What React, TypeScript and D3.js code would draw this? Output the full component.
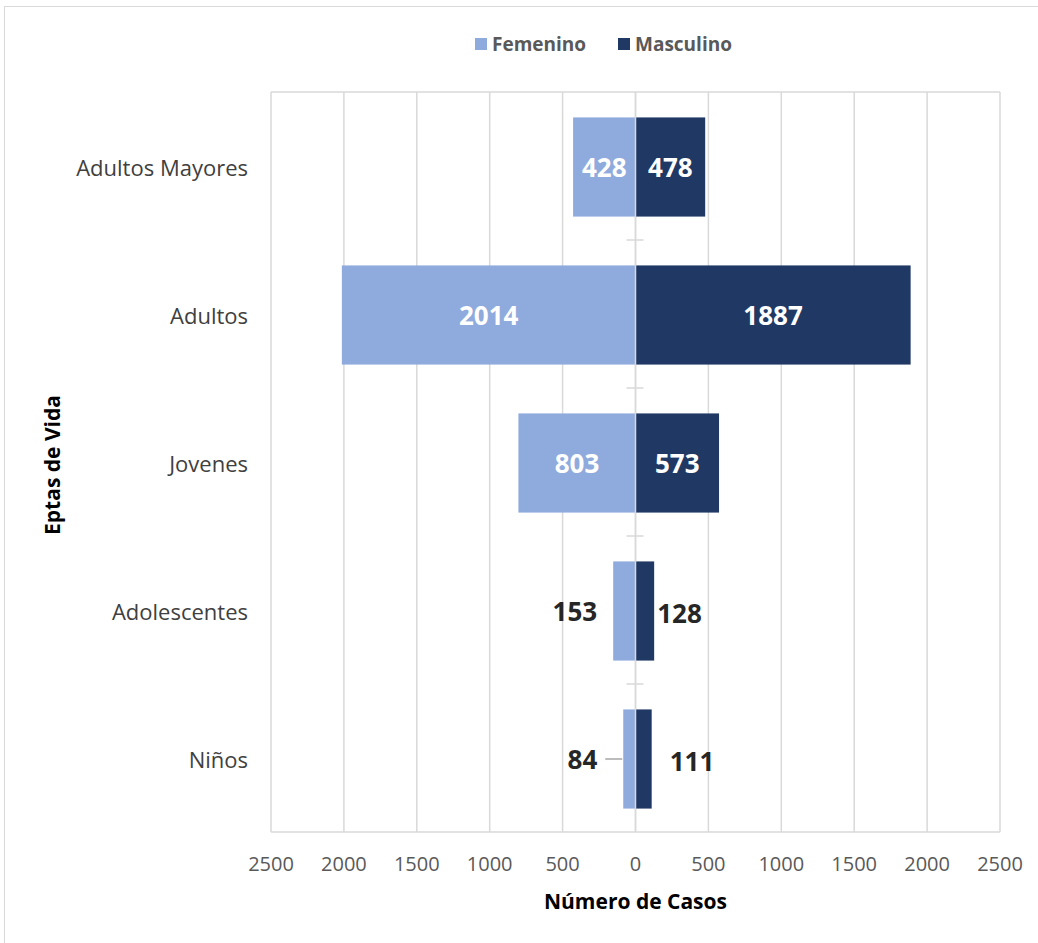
import React from "react";
import * as d3 from "d3";

const categories = ["Adultos Mayores", "Adultos", "Jovenes", "Adolescentes", "Niños"];
const femenino = [428, 2014, 803, 153, 84];
const masculino = [478, 1887, 573, 128, 111];
const ticks = [-2500, -2000, -1500, -1000, -500, 0, 500, 1000, 1500, 2000, 2500];
const seriesNames = ["Femenino", "Masculino"];
const colors = ["#8FAADC", "#203864"];

const W = 1038, H = 943;
const plot = { left: 271, right: 1000, top: 92, bottom: 832 };
const font = "'Open Sans', 'Noto Sans', sans-serif";

export default function App() {
  const x = d3.scaleLinear().domain([-2500, 2500]).range([plot.left, plot.right]);
  const y = d3.scaleBand().domain(categories).range([plot.top, plot.bottom]).paddingInner(0.33).paddingOuter(0.165);
  const x0 = x(0);
  const step = y.step();

  return (
    <svg width={W} height={H} style={{ display: "block", position: "absolute", left: 0, top: 0 }}>
      <rect x={0} y={0} width={W} height={H} fill="#fff" />
      <rect x={4.5} y={6.5} width={W + 10} height={H + 10} fill="none" stroke="#d9d9d9" strokeWidth={1} />
      {ticks.map((t) => (
        <line key={t} x1={x(t)} x2={x(t)} y1={plot.top} y2={plot.bottom} stroke="#d9d9d9" strokeWidth={1.5} />
      ))}
      <line x1={plot.left} x2={plot.right} y1={plot.top} y2={plot.top} stroke="#d9d9d9" strokeWidth={1.5} />
      <line x1={plot.left} x2={plot.right} y1={plot.bottom} y2={plot.bottom} stroke="#d9d9d9" strokeWidth={1.5} />
      {categories.slice(1).map((c) => {
        const yy = (y(c) as number) - (step - y.bandwidth()) / 2;
        return <line key={c} x1={x0 - 9} x2={x0 + 8} y1={yy} y2={yy} stroke="#d9d9d9" strokeWidth={1.5} />;
      })}
      {categories.map((c, i) => {
        const yy = (y(c) as number) + 1;
        const bh = y.bandwidth();
        return (
          <g key={c}>
            <rect x={x(-femenino[i])} y={yy} width={x0 - x(-femenino[i])} height={bh} fill={colors[0]} />
            <rect x={x0} y={yy} width={x(masculino[i]) - x0} height={bh} fill={colors[1]} />
          </g>
        );
      })}
      <line x1={x0} x2={x0} y1={plot.top} y2={plot.bottom} stroke="#d9d9d9" strokeWidth={1.5} />
      {categories.map((c, i) => {
        const cy = (y(c) as number) + y.bandwidth() / 2 + 1;
        const fw = x0 - x(-femenino[i]);
        const mw = x(masculino[i]) - x0;
        const els: React.ReactNode[] = [];
        const fs = 26;
        if (fw > 50) {
          els.push(<text key="f" x={x0 - fw / 2} y={cy} textAnchor="middle" dominantBaseline="central" fill="#fff" fontFamily={font} fontWeight={700} fontSize={fs}>{femenino[i]}</text>);
        } else {
          const leader = fw < 15;
          const end = x(-femenino[i]) - (leader ? 26 : 16);
          els.push(<text key="f" x={end} y={cy} textAnchor="end" dominantBaseline="central" fill="#262626" fontFamily={font} fontWeight={700} fontSize={fs}>{femenino[i]}</text>);
          if (leader) els.push(<line key="fl" x1={end + 8} x2={x(-femenino[i]) - 1} y1={cy} y2={cy} stroke="#a6a6a6" strokeWidth={1.5} />);
        }
        if (mw > 50) {
          els.push(<text key="m" x={x0 + mw / 2} y={cy} textAnchor="middle" dominantBaseline="central" fill="#fff" fontFamily={font} fontWeight={700} fontSize={fs}>{masculino[i]}</text>);
        } else {
          const start = x(masculino[i]) + (mw < 17 ? 18 : 3);
          els.push(<text key="m" x={start} y={cy + 2} textAnchor="start" dominantBaseline="central" fill="#262626" fontFamily={font} fontWeight={700} fontSize={fs}>{masculino[i]}</text>);
        }
        return <g key={c}>{els}</g>;
      })}
      {categories.map((c) => (
        <text key={c} x={248} y={(y(c) as number) + y.bandwidth() / 2 + 1} textAnchor="end" dominantBaseline="central" fill="#404040" fontFamily={font} fontSize={22}>{c}</text>
      ))}
      {ticks.map((t) => (
        <text key={t} x={x(t)} y={863} textAnchor="middle" dominantBaseline="central" fill="#595959" fontFamily={font} fontSize={20}>{Math.abs(t)}</text>
      ))}
      <text x={x0} y={901} textAnchor="middle" dominantBaseline="central" fill="#000" fontFamily={font} fontWeight={700} fontSize={21}>Número de Casos</text>
      <text transform={`translate(52, ${(plot.top + plot.bottom) / 2 + 3}) rotate(-90)`} textAnchor="middle" dominantBaseline="central" fill="#000" fontFamily={font} fontWeight={700} fontSize={21}>Eptas de Vida</text>
      {seriesNames.map((s, i) => {
        const lx = i === 0 ? 475 : 618;
        return (
          <g key={s}>
            <rect x={lx} y={38} width={12} height={12} fill={colors[i]} />
            <text x={lx + 17} y={44} dominantBaseline="central" fill="#595959" fontFamily={font} fontWeight={700} fontSize={19}>{s}</text>
          </g>
        );
      })}
    </svg>
  );
}
